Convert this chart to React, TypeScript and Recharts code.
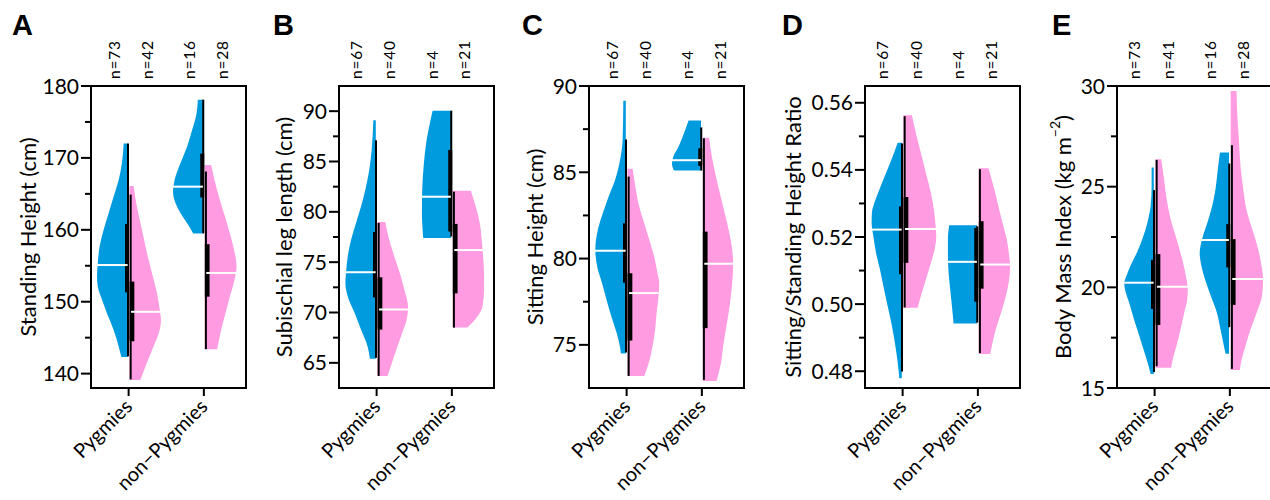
import React from "react";
import { ComposedChart, Area, XAxis, YAxis, ReferenceArea, ReferenceLine } from "recharts";

// [value, half width of the violin in x-axis units], top to bottom
type Prof = [number, number][];
// [median, q1, q3, min, max]
type Stat = [number, number, number, number, number];

const groups = ["Pygmies", "non\u2212Pygmies"];
const BLUE = "#009BDF";
const PINK = "#FF9BE1";
const FONT = "Lato, 'Liberation Sans', sans-serif";

// A - standing height
const standPygBlue: Prof = [[172.0, 0.066], [169.3, 0.089], [166.9, 0.133], [164.6, 0.2], [162.3, 0.266], [160.0, 0.332], [157.7, 0.385], [155.4, 0.41], [153.5, 0.42], [152.1, 0.41], [150.3, 0.355], [148.4, 0.288], [146.1, 0.2], [143.8, 0.133], [142.3, 0.097]];
const standPygPink: Prof = [[166.1, 0.066], [163.2, 0.11], [160.0, 0.177], [156.8, 0.243], [154.0, 0.31], [151.2, 0.376], [148.4, 0.42], [147.5, 0.43], [145.6, 0.4], [143.8, 0.332], [141.5, 0.243], [139.1, 0.155]];
const standNonBlue: Prof = [[178.1, 0.08], [176.2, 0.097], [173.9, 0.155], [171.6, 0.222], [169.3, 0.31], [166.9, 0.39], [165.3, 0.41], [163.7, 0.376], [162.3, 0.31], [160.9, 0.222], [159.5, 0.142]];
const standNonPink: Prof = [[169.0, 0.097], [166.9, 0.142], [164.6, 0.2], [162.3, 0.266], [160.0, 0.332], [157.7, 0.39], [154.9, 0.434], [153.1, 0.408], [150.7, 0.345], [148.4, 0.288], [146.1, 0.23], [143.4, 0.177]];
const standStats: Stat[] = [[155.1, 151.3, 160.8, 142.4, 172.0], [148.6, 144.5, 152.8, 139.2, 164.9], [166.0, 164.5, 170.6, 159.5, 178.1], [154.0, 150.7, 158.0, 143.4, 168.1]];
const standN = [73, 42, 16, 28];

// B - subischial leg length
const legPygBlue: Prof = [[89.1, 0.044], [86.5, 0.062], [83.8, 0.106], [82.2, 0.15], [80.5, 0.208], [78.9, 0.274], [77.2, 0.34], [75.6, 0.384], [73.9, 0.407], [72.9, 0.415], [71.6, 0.384], [70.0, 0.295], [68.3, 0.208], [66.6, 0.119], [65.4, 0.089]];
const legPygPink: Prof = [[79.0, 0.115], [77.2, 0.168], [75.6, 0.234], [73.9, 0.309], [72.3, 0.367], [70.5, 0.418], [69.3, 0.4], [67.6, 0.322], [66.0, 0.248], [64.7, 0.19], [63.7, 0.146]];
const legNonBlue: Prof = [[90.05, 0.256], [88.8, 0.292], [87.1, 0.336], [84.8, 0.372], [82.2, 0.394], [79.9, 0.398], [77.4, 0.381]];
const legNonPink: Prof = [[82.1, 0.252], [80.5, 0.318], [78.9, 0.371], [77.2, 0.397], [75.6, 0.415], [73.9, 0.428], [72.3, 0.428], [70.6, 0.407], [69.6, 0.34], [68.5, 0.208]];
const legStats: Stat[] = [[74.0, 71.5, 78.0, 65.5, 87.1], [70.3, 68.3, 73.5, 63.7, 78.9], [81.5, 78.05, 86.15, 77.55, 90.05], [76.2, 71.9, 78.8, 68.5, 82.0]];
const legN = [67, 40, 4, 21];

// C - sitting height
const sitPygBlue: Prof = [[89.15, 0.044], [86.9, 0.053], [85.5, 0.097], [84.6, 0.15], [83.6, 0.239], [82.6, 0.319], [81.7, 0.381], [80.5, 0.416], [79.5, 0.389], [78.6, 0.328], [77.6, 0.266], [76.6, 0.2], [75.7, 0.133], [74.9, 0.089], [74.5, 0.076]];
const sitPygPink: Prof = [[85.2, 0.08], [84.2, 0.115], [83.0, 0.168], [82.05, 0.234], [81.1, 0.3], [80.1, 0.367], [79.15, 0.41], [78.6, 0.433], [77.8, 0.424], [76.8, 0.397], [75.9, 0.38], [74.9, 0.344], [73.9, 0.291], [73.2, 0.234]];
const sitNonBlue: Prof = [[88.0, 0.177], [87.3, 0.234], [86.5, 0.309], [85.9, 0.38], [85.5, 0.397], [85.1, 0.37]];
const sitNonPink: Prof = [[87.0, 0.097], [85.9, 0.133], [84.6, 0.195], [83.0, 0.283], [81.7, 0.354], [80.7, 0.398], [79.7, 0.416], [78.8, 0.407], [77.8, 0.385], [76.8, 0.354], [75.9, 0.319], [74.9, 0.283], [73.9, 0.252], [72.9, 0.195]];
const sitStats: Stat[] = [[80.46, 78.6, 82.05, 74.56, 86.9], [78.0, 75.25, 79.15, 73.2, 84.75], [85.7, 85.37, 86.39, 85.1, 87.6], [79.7, 75.97, 81.56, 72.97, 86.97]];
const sitN = [67, 40, 4, 21];

// D - sitting/standing height ratio
const ratioPygBlue: Prof = [[0.5481, 0.066], [0.544, 0.133], [0.539, 0.222], [0.5341, 0.31], [0.5301, 0.376], [0.5272, 0.408], [0.5242, 0.412], [0.5202, 0.389], [0.5153, 0.354], [0.5103, 0.301], [0.5054, 0.256], [0.4995, 0.2], [0.4935, 0.142], [0.4876, 0.097], [0.4827, 0.066], [0.4779, 0.044]];
const ratioPygPink: Prof = [[0.5563, 0.124], [0.5509, 0.177], [0.545, 0.243], [0.539, 0.31], [0.5331, 0.376], [0.5272, 0.421], [0.5222, 0.442], [0.5202, 0.447], [0.5173, 0.434], [0.5123, 0.376], [0.5074, 0.31], [0.5024, 0.243], [0.4989, 0.2]];
const ratioNonBlue: Prof = [[0.5235, 0.381], [0.5192, 0.398], [0.5143, 0.398], [0.5094, 0.389], [0.5044, 0.368], [0.4995, 0.345], [0.4942, 0.323]];
const ratioNonPink: Prof = [[0.5405, 0.142], [0.5351, 0.208], [0.5291, 0.274], [0.5242, 0.328], [0.5192, 0.385], [0.5143, 0.416], [0.5113, 0.429], [0.5074, 0.416], [0.5024, 0.372], [0.4975, 0.309], [0.4925, 0.239], [0.4876, 0.186], [0.4851, 0.164]];
const ratioStats: Stat[] = [[0.5222, 0.5089, 0.5291, 0.4799, 0.5479], [0.5224, 0.5123, 0.5319, 0.499, 0.556], [0.5126, 0.5007, 0.5227, 0.4945, 0.5232], [0.5118, 0.5046, 0.5247, 0.4854, 0.5402]];
const ratioN = [67, 40, 4, 21];

// E - body mass index
const bmiPygBlue: Prof = [[25.95, 0.04], [25.0, 0.04], [24.05, 0.053], [23.2, 0.097], [22.4, 0.163], [21.7, 0.238], [21.1, 0.318], [20.6, 0.371], [20.2, 0.404], [19.75, 0.384], [19.1, 0.327], [18.4, 0.274], [17.8, 0.221], [17.1, 0.163], [16.3, 0.097], [15.7, 0.053]];
const bmiPygPink: Prof = [[26.36, 0.088], [25.4, 0.124], [24.4, 0.159], [23.4, 0.212], [22.4, 0.291], [21.4, 0.366], [20.4, 0.424], [19.9, 0.441], [19.4, 0.433], [18.8, 0.397], [17.9, 0.344], [17.1, 0.291], [16.3, 0.234], [16.0, 0.221]];
const bmiNonBlue: Prof = [[26.7, 0.132], [25.9, 0.159], [24.9, 0.19], [24.05, 0.234], [23.2, 0.3], [22.6, 0.354], [22.1, 0.388], [21.7, 0.401], [21.1, 0.38], [20.4, 0.331], [19.6, 0.256], [18.8, 0.177], [17.9, 0.124], [17.1, 0.08], [16.7, 0.057]];
const bmiNonPink: Prof = [[29.75, 0.088], [28.7, 0.097], [27.4, 0.119], [26.0, 0.142], [24.9, 0.177], [23.7, 0.23], [22.9, 0.296], [22.1, 0.362], [21.2, 0.415], [20.4, 0.441], [19.6, 0.428], [18.8, 0.362], [17.9, 0.274], [17.1, 0.208], [16.3, 0.15], [15.9, 0.133]];
const bmiStats: Stat[] = [[20.23, 18.93, 21.37, 15.79, 24.83], [20.03, 18.13, 21.65, 16.08, 26.33], [22.35, 20.99, 23.14, 18.02, 26.15], [20.41, 19.12, 22.4, 15.95, 27.06]];
const bmiN = [73, 41, 16, 28];

const X_DOMAIN: [number, number] = [0.5, 2.56];
const GAP = 0.011;
const W = 255;
const H = 500;

type Cfg = {
  letter: string;
  title: React.ReactNode;
  left: number;
  letterX: number;
  titleX: number;
  domain: [number, number];
  ticks: number[];
  minor: number[];
  digits: number;
  violins: Prof[];
  stats: Stat[];
  n: number[];
  nOff: [number, number];
};

const panels: Cfg[] = [
  { letter: "A", title: "Standing Height (cm)", left: 1, letterX: 11, titleX: 26, domain: [138, 180], ticks: [140, 150, 160, 170, 180], minor: [145, 155, 165, 175], digits: 0, violins: [standPygBlue, standPygPink, standNonBlue, standNonPink], stats: standStats, n: standN, nOff: [-0.19, 0.25] },
  { letter: "B", title: "Subischial leg length (cm)", left: 249, letterX: 24, titleX: 34, domain: [62.5, 92.5], ticks: [65, 70, 75, 80, 85, 90], minor: [67.5, 72.5, 77.5, 82.5, 87.5], digits: 0, violins: [legPygBlue, legPygPink, legNonBlue, legNonPink], stats: legStats, n: legN, nOff: [-0.26, 0.175] },
  { letter: "C", title: "Sitting Height (cm)", left: 499, letterX: 23, titleX: 35, domain: [72.5, 90], ticks: [75, 80, 85, 90], minor: [77.5, 82.5, 87.5], digits: 0, violins: [sitPygBlue, sitPygPink, sitNonBlue, sitNonPink], stats: sitStats, n: sitN, nOff: [-0.19, 0.25] },
  { letter: "D", title: "Sitting/Standing Height Ratio", left: 775, letterX: 7, titleX: 17, domain: [0.475, 0.565], ticks: [0.48, 0.5, 0.52, 0.54, 0.56], minor: [0.49, 0.51, 0.53, 0.55], digits: 2, violins: [ratioPygBlue, ratioPygPink, ratioNonBlue, ratioNonPink], stats: ratioStats, n: ratioN, nOff: [-0.26, 0.18] },
  {
    letter: "E",
    title: (
      <>
        Body Mass Index (kg m<tspan dy={-8} fontSize={14}>{"\u22122"}</tspan><tspan dy={8}>)</tspan>
      </>
    ),
    left: 1027, letterX: 25, titleX: 35, domain: [15, 30], ticks: [15, 20, 25, 30], minor: [17.5, 22.5, 27.5], digits: 0,
    violins: [bmiPygBlue, bmiPygPink, bmiNonBlue, bmiNonPink], stats: bmiStats, n: bmiN, nOff: [-0.26, 0.18],
  },
];

// width of a half violin at value v (linear between read points)
function widthAt(prof: Prof, v: number) {
  for (let i = 0; i < prof.length - 1; i++) {
    const [v0, w0] = prof[i];
    const [v1, w1] = prof[i + 1];
    if (v <= v0 && v >= v1) return w0 + ((v0 - v) / (v0 - v1)) * (w1 - w0);
  }
  return prof[0][1];
}

const YTick = (props: any) => {
  const { x, y, payload, majors, digits } = props;
  const major = majors.includes(payload.value);
  const len = major ? 10 : 6;
  return (
    <g>
      <line x1={x - len} x2={x} y1={y} y2={y} stroke="#000" strokeWidth={2} />
      {major && (
        <text x={x - len - 2} y={y} dy="0.36em" textAnchor="end" fontFamily={FONT} fontSize={21} fill="#000">
          {Number(payload.value).toFixed(digits)}
        </text>
      )}
    </g>
  );
};

const XTick = (props: any) => {
  const { x, y, index } = props;
  return (
    <text x={x} y={y} dy="0.35em" textAnchor="end" transform={`rotate(-45, ${x}, ${y})`} fontFamily={FONT} fontSize={20} fill="#000">
      {groups[index]}
    </text>
  );
};

const NTick = (props: any) => {
  const { x, y, index, labels } = props;
  return (
    <text x={x} y={y} dy="0.35em" textAnchor="start" transform={`rotate(-90, ${x}, ${y})`} fontFamily={FONT} fontSize={15.5} letterSpacing={0.8} fill="#000">
      {`n=${labels[index]}`}
    </text>
  );
};

const Panel = ({ cfg }: { cfg: Cfg }) => {
  const rows: any[] = [];
  cfg.violins.forEach((prof, k) => {
    const c = k < 2 ? 1 : 2;
    const blue = k % 2 === 0;
    prof.forEach(([v, w]) => {
      rows.push({ v, ["s" + k]: blue ? [c - w, c - GAP] : [c + GAP, c + w] });
    });
  });
  const yTicks = [...cfg.ticks, ...cfg.minor].sort((a, b) => a - b);
  const nTicks = [1 + cfg.nOff[0], 1 + cfg.nOff[1], 2 + cfg.nOff[0], 2 + cfg.nOff[1]];

  return (
    <div style={{ position: "absolute", left: cfg.left, top: 0, width: W, height: H }}>
      <ComposedChart layout="vertical" width={W} height={H} data={rows} margin={{ top: 46, right: 10, bottom: 12, left: 0 }}>
        <XAxis
          type="number"
          domain={X_DOMAIN}
          ticks={[1, 2]}
          interval={0}
          allowDataOverflow
          height={100}
          axisLine={false}
          tickLine={{ stroke: "#000", strokeWidth: 2 }}
          tickSize={8}
          tickMargin={7}
          tick={<XTick />}
        />
        <XAxis
          xAxisId="top"
          orientation="top"
          type="number"
          domain={X_DOMAIN}
          ticks={nTicks}
          interval={0}
          allowDataOverflow
          height={40}
          axisLine={false}
          tickLine={false}
          tickSize={0}
          tickMargin={7}
          tick={<NTick labels={cfg.n} />}
        />
        <YAxis
          type="number"
          dataKey="v"
          reversed
          domain={cfg.domain}
          ticks={yTicks}
          interval={0}
          allowDataOverflow
          width={90}
          axisLine={false}
          tickLine={false}
          tickSize={0}
          tickMargin={0}
          tick={<YTick majors={cfg.ticks} digits={cfg.digits} />}
        />
        {cfg.violins.map((_, k) => (
          <Area
            key={"v" + k}
            dataKey={"s" + k}
            type="monotone"
            fill={k % 2 === 0 ? BLUE : PINK}
            fillOpacity={1}
            stroke="none"
            dot={false}
            activeDot={false}
            isAnimationActive={false}
            zIndex={100}
          />
        ))}
        {cfg.stats.map((s, k) => {
          const c = k < 2 ? 1 : 2;
          const wx = k % 2 === 0 ? c - 0.008 : c + 0.027;
          return (
            <ReferenceLine key={"w" + k} segment={[{ x: wx, y: s[3] }, { x: wx, y: s[4] }]} stroke="#000" strokeWidth={2} zIndex={410} />
          );
        })}
        {cfg.stats.map((s, k) => {
          const c = k < 2 ? 1 : 2;
          const blue = k % 2 === 0;
          return (
            <ReferenceArea
              key={"b" + k}
              x1={blue ? c - 0.048 : c + 0.013}
              x2={blue ? c + 0.005 : c + 0.076}
              y1={s[1]}
              y2={s[2]}
              fill="#000"
              fillOpacity={1}
              stroke="none"
              zIndex={420}
            />
          );
        })}
        {cfg.stats.map((s, k) => {
          const c = k < 2 ? 1 : 2;
          const blue = k % 2 === 0;
          const mw = widthAt(cfg.violins[k], s[0]) + 0.02;
          const x1 = blue ? c - mw : c + 0.032;
          const x2 = blue ? c - 0.013 : c + mw;
          return (
            <ReferenceLine key={"m" + k} segment={[{ x: x1, y: s[0] }, { x: x2, y: s[0] }]} stroke="#fff" strokeWidth={2} zIndex={430} />
          );
        })}
        <ReferenceArea
          x1={X_DOMAIN[0]}
          x2={X_DOMAIN[1]}
          y1={cfg.domain[0]}
          y2={cfg.domain[1]}
          fill="none"
          stroke="#000"
          strokeWidth={2}
          ifOverflow="visible"
          zIndex={440}
        />
      </ComposedChart>
      <svg width={W} height={H} style={{ position: "absolute", left: 0, top: 0, pointerEvents: "none" }}>
        <text x={cfg.letterX} y={35} fontFamily="'Liberation Sans', Arial, sans-serif" fontWeight="bold" fontSize={29} fill="#000">
          {cfg.letter}
        </text>
        <text
          x={cfg.titleX}
          y={237}
          textAnchor="middle"
          dominantBaseline="central"
          transform={`rotate(-90, ${cfg.titleX}, 237)`}
          fontFamily={FONT}
          fontSize={22}
          fill="#000"
        >
          {cfg.title}
        </text>
      </svg>
    </div>
  );
};

const App = () => (
  <div style={{ position: "absolute", left: 0, top: 0, width: 1270, height: 500, overflow: "hidden", background: "#fff" }}>
    {panels.map((p) => (
      <Panel key={p.letter} cfg={p} />
    ))}
  </div>
);

export default App;
